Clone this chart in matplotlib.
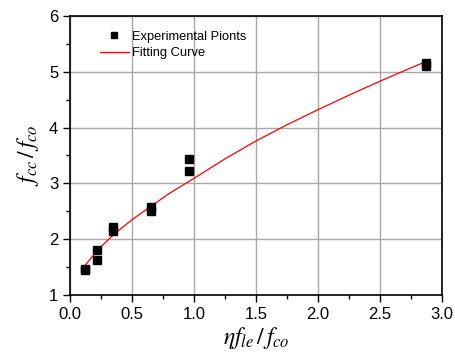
import numpy as np
import matplotlib.pyplot as plt
from matplotlib.ticker import MultipleLocator

# experimental points
exp_x = [0.12, 0.12, 0.22, 0.22, 0.35, 0.35, 0.65, 0.65, 0.96, 0.96, 2.87, 2.87]
exp_y = [1.45, 1.47, 1.63, 1.81, 2.15, 2.22, 2.50, 2.57, 3.22, 3.43, 5.10, 5.16]

# fitting curve, read at several x positions
fit_x = [0.11, 0.22, 0.35, 0.5, 0.66, 0.8, 1.0, 1.25, 1.5, 1.75, 2.0, 2.25, 2.5, 2.75, 2.87]
fit_y = [1.50, 1.80, 2.08, 2.35, 2.60, 2.82, 3.09, 3.44, 3.76, 4.05, 4.32, 4.58, 4.83, 5.07, 5.18]

plt.rcParams['font.family'] = ['Liberation Sans', 'DejaVu Sans']
plt.rcParams['mathtext.fontset'] = 'stix'

fig = plt.figure(figsize=(4.55, 3.55), dpi=100)
ax = fig.add_axes([0.154, 0.169, 0.817, 0.786])

ax.plot(exp_x, exp_y, 's', color='black', markersize=5.5, label='Experimental Pionts', zorder=3)
ax.plot(fit_x, fit_y, '-', color='red', linewidth=0.9, label='Fitting Curve', zorder=2)

ax.set_xlim(0, 3.0)
ax.set_ylim(1, 6)
ax.xaxis.set_major_locator(MultipleLocator(0.5))
ax.xaxis.set_minor_locator(MultipleLocator(0.25))
ax.yaxis.set_major_locator(MultipleLocator(1))
ax.yaxis.set_minor_locator(MultipleLocator(0.5))
ax.grid(True, which='major', color='#a8a8a8', linewidth=1.0)
ax.set_axisbelow(True)
ax.tick_params(which='major', direction='out', length=5, width=1, labelsize=12)
ax.tick_params(which='minor', direction='out', length=3, width=1)
ax.xaxis.set_major_formatter(plt.FuncFormatter(lambda v, p: f'{v:.1f}'))
for s in ax.spines.values():
    s.set_linewidth(1.2)

ax.set_xlabel(r'$\eta f_{le}\,/\,f_{co}$', fontsize=17, labelpad=2)
ax.set_ylabel(r'$f_{cc}\,/\,f_{co}$', fontsize=17, labelpad=6)

leg = ax.legend(loc='upper left', bbox_to_anchor=(0.06, 0.975), frameon=False, fontsize=9.3,
                handlelength=2.2, handletextpad=0.3, labelspacing=0.35, borderaxespad=0.2,
                markerscale=0.8)

fig.savefig('out.png', dpi=100)
